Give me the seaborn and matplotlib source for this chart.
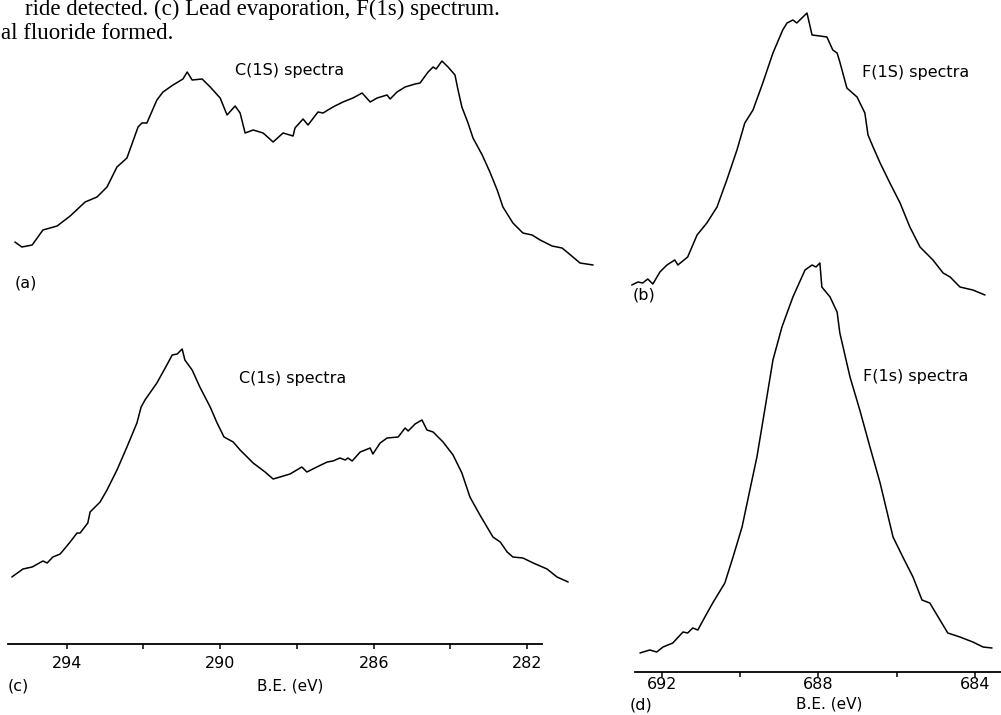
import matplotlib
matplotlib.use("Agg")
import matplotlib.pyplot as plt
from matplotlib.ticker import FixedLocator
import seaborn as sns

# --- digitised XPS spectra: binding energy (eV) and intensity (arb. units) ---
# (a) C(1S), top left
be_a = [295.35, 295.17, 294.90, 294.62, 294.25, 293.91, 293.52, 293.21, 292.95, 292.69,
        292.43, 292.14, 292.04, 291.91, 291.65, 291.49, 291.23, 290.97, 290.86, 290.73,
        290.47, 290.26, 290.00, 289.82, 289.61, 289.48, 289.35, 289.14, 288.88, 288.62,
        288.36, 288.10, 288.05, 287.84, 287.71, 287.45, 287.32, 287.06, 286.80, 286.54,
        286.30, 286.09, 285.91, 285.65, 285.57, 285.39, 285.18, 284.92, 284.79, 284.58,
        284.45, 284.37, 284.22, 284.06, 283.88, 283.80, 283.70, 283.54, 283.41, 283.17,
        282.97, 282.78, 282.63, 282.37, 282.11, 281.87, 281.66, 281.35, 281.09, 280.93,
        280.62, 280.28]
int_a = [58, 53, 55, 70, 74, 84, 98, 103, 113, 133,
         142, 173, 177, 177, 200, 208, 215, 221, 228, 220,
         221, 213, 202, 185, 194, 187, 167, 170, 167, 158,
         167, 164, 172, 181, 175, 188, 187, 193, 198, 202,
         207, 198, 202, 205, 201, 208, 213, 216, 217, 228,
         233, 231, 239, 233, 225, 210, 193, 177, 162, 145,
         128, 110, 93, 77, 67, 65, 60, 54, 52, 47,
         37, 35]

# (c) C(1s), bottom left
be_c = [295.43, 295.14, 294.90, 294.62, 294.51, 294.36, 294.17, 293.91, 293.73, 293.65,
        293.45, 293.39, 293.13, 292.95, 292.69, 292.43, 292.17, 292.06, 291.96, 291.65,
        291.39, 291.25, 291.12, 290.99, 290.92, 290.73, 290.53, 290.26, 290.08, 289.90,
        289.66, 289.48, 289.14, 288.83, 288.62, 288.44, 288.18, 287.87, 287.74, 287.48,
        287.21, 287.06, 286.88, 286.74, 286.67, 286.56, 286.35, 286.09, 286.02, 285.83,
        285.65, 285.36, 285.18, 285.10, 284.92, 284.74, 284.61, 284.45, 284.19, 283.93,
        283.70, 283.49, 283.23, 282.89, 282.70, 282.52, 282.37, 282.11, 281.84, 281.48,
        281.22, 280.93]
int_c = [67, 75, 77, 83, 81, 87, 90, 102, 111, 111,
         121, 132, 142, 154, 174, 197, 221, 237, 244, 261,
         279, 289, 290, 295, 284, 274, 257, 237, 221, 207,
         202, 194, 181, 172, 165, 167, 170, 177, 172, 177,
         182, 183, 186, 184, 186, 183, 192, 196, 190, 201,
         206, 207, 216, 213, 220, 224, 214, 212, 202, 189,
         171, 147, 129, 107, 102, 92, 87, 86, 81, 75,
         67, 62]

# (b) F(1S), top right
be_b = [692.77, 692.61, 692.49, 692.36, 692.23, 692.05, 691.87, 691.67, 691.59, 691.34,
        691.10, 690.85, 690.59, 690.34, 690.08, 689.88, 689.67, 689.42, 689.16, 688.91,
        688.80, 688.65, 688.55, 688.42, 688.29, 688.16, 687.96, 687.78, 687.63, 687.52,
        687.45, 687.27, 687.01, 686.81, 686.73, 686.60, 686.42, 686.17, 685.91, 685.66,
        685.40, 685.07, 684.81, 684.63, 684.38, 684.05, 683.74]
int_b = [15, 18, 17, 21, 16, 28, 35, 40, 35, 43,
         65, 77, 93, 120, 150, 177, 190, 217, 247, 270,
         277, 280, 277, 282, 287, 265, 264, 263, 250, 247,
         238, 212, 203, 187, 165, 153, 137, 117, 97, 73,
         53, 40, 27, 23, 13, 10, 5]

# (d) F(1s), bottom right
be_d = [692.56, 692.31, 692.13, 691.97, 691.72, 691.46, 691.34, 691.21, 691.08, 690.90,
        690.70, 690.39, 690.18, 689.95, 689.75, 689.57, 689.37, 689.16, 688.93, 688.65,
        688.34, 688.16, 688.06, 687.96, 687.91, 687.70, 687.52, 687.45, 687.19, 686.94,
        686.68, 686.42, 686.09, 685.84, 685.58, 685.35, 685.15, 684.89, 684.69, 684.38,
        684.05, 683.79, 683.56]
int_d = [19, 22, 20, 25, 29, 40, 39, 44, 42, 55,
         69, 89, 115, 145, 182, 215, 262, 312, 345, 375,
         402, 407, 405, 409, 385, 375, 360, 339, 295, 262,
         225, 189, 135, 115, 95, 72, 69, 52, 39, 35,
         30, 25, 24]

c_major = [294, 290, 286, 282]
c_minor = [292, 288, 284]
f_major = [692, 688, 684]
f_minor = [690, 686]

sns.set_style("white")
plt.rcParams["font.family"] = ["DejaVu Sans"]
plt.rcParams["text.color"] = "black"
plt.rcParams["xtick.color"] = "black"

W, H = 1001, 715
fig = plt.figure(figsize=(W / 100, H / 100), dpi=100)


def add_panel(left, right, top, bottom):
    # place an axes by pixel edges
    ax = fig.add_axes([left / W, 1 - bottom / H, (right - left) / W, (bottom - top) / H])
    ax.set_facecolor("none")
    for s in ax.spines.values():
        s.set_visible(False)
    ax.set_yticks([])
    return ax


def ftext(x, y, s, **kw):
    fig.text(x / W, 1 - y / H, s, **kw)


def draw(ax, x, y):
    sns.lineplot(x=x, y=y, ax=ax, color="black", linewidth=1.1, sort=False, estimator=None)
    ax.set_xlabel("")
    ax.set_ylabel("")


def energy_axis(ax, major, minor, bounds, pad):
    ax.spines["bottom"].set_visible(True)
    ax.spines["bottom"].set_color("black")
    ax.spines["bottom"].set_linewidth(1.3)
    ax.spines["bottom"].set_bounds(*bounds)
    ax.set_xticks(major)
    ax.set_xticklabels([str(v) for v in major])
    ax.xaxis.set_minor_locator(FixedLocator(minor))
    ax.tick_params(axis="x", which="both", bottom=True, direction="out",
                   length=3.8, width=1.1, color="black")
    ax.tick_params(axis="x", which="major", labelsize=11.5, pad=pad, labelcolor="black")


# panel (a)
ax_a = add_panel(8, 600, 40, 300)
draw(ax_a, be_a, int_a)
ax_a.set_xlim(295.53, 280.10)
ax_a.set_ylim(0, 260)
ax_a.set_xticks([])

# panel (c)
ax_c = add_panel(8, 600, 330, 644)
draw(ax_c, be_c, int_c)
ax_c.set_xlim(295.53, 280.10)
ax_c.set_ylim(0, 314)
energy_axis(ax_c, c_major, c_minor, (295.53, 281.61), pad=5)

# panel (b)
ax_b = add_panel(620, 1001, 0, 300)
draw(ax_b, be_b, int_b)
ax_b.set_xlim(693.07, 683.33)
ax_b.set_ylim(0, 300)
ax_b.set_xticks([])

# panel (d)
ax_d = add_panel(620, 1001, 250, 672)
draw(ax_d, be_d, int_d)
ax_d.set_xlim(693.07, 683.33)
ax_d.set_ylim(0, 422)
energy_axis(ax_d, f_major, f_minor, (692.69, 683.33), pad=-0.5)

# spectrum names and panel letters
lab = dict(fontsize=11.5, va="center")
ftext(290, 70, "C(1S) spectra", ha="center", **lab)
ftext(293, 378, "C(1s) spectra", ha="center", **lab)
ftext(916, 72, "F(1S) spectra", ha="center", **lab)
ftext(916, 377, "F(1s) spectra", ha="center", **lab)
ftext(15, 283, "(a)", ha="left", **lab)
ftext(633, 295, "(b)", ha="left", **lab)
ftext(8, 686, "(c)", ha="left", **lab)
ftext(630, 705, "(d)", ha="left", **lab)
ftext(290, 686, "B.E. (eV)", ha="center", fontsize=11, va="center")
ftext(829, 704, "B.E. (eV)", ha="center", fontsize=11, va="center")

# fragment of the printed caption above the figure
cap = dict(family=["Liberation Serif", "DejaVu Serif"], fontsize=16.5, va="baseline")
ftext(500, 15, "ride detected. (c) Lead evaporation, F(1s) spectrum.", ha="right", **cap)
ftext(1, 39, "al fluoride formed.", ha="left", **cap)

fig.savefig("out.png", dpi=100)
